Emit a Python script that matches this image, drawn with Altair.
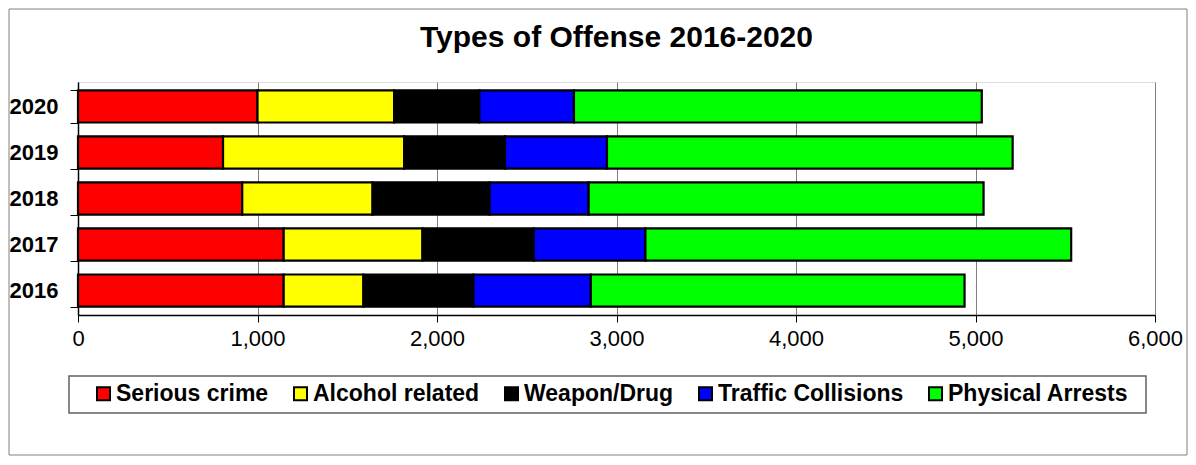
import altair as alt
import pandas as pd

years = ["2020", "2019", "2018", "2017", "2016"]
categories = ["Serious crime", "Alcohol related", "Weapon/Drug", "Traffic Collisions", "Physical Arrests"]
serious = [1000, 808, 915, 1146, 1146]
alcohol = [761, 1009, 726, 773, 444]
weapon = [475, 562, 652, 620, 613]
traffic = [527, 568, 552, 622, 654]
arrests = [2272, 2260, 2200, 2372, 2082]
colors = ["#ff0000", "#ffff00", "#000000", "#0000ff", "#00ff00"]
x_ticks = [0, 1000, 2000, 3000, 4000, 5000, 6000]

series = [serious, alcohol, weapon, traffic, arrests]
rows = []
for i, yr in enumerate(years):
    for j, cat in enumerate(categories):
        rows.append({"year": yr, "type": cat, "idx": j, "count": series[j][i]})
df = pd.DataFrame(rows)

FONT = "Liberation Sans"
W, H = 1077, 233

bars = alt.Chart(df).mark_bar(stroke="black", strokeWidth=2.2).encode(
    x=alt.X(
        "count:Q",
        stack="zero",
        scale=alt.Scale(domain=[0, 6000], nice=False),
        axis=alt.Axis(
            values=x_ticks, format=",d", title=None, grid=True,
            gridColor="#808080", gridWidth=1,
            labelFont=FONT, labelFontSize=22, labelColor="black",
            labelFlush=False,
            tickSize=7, tickColor="black", domainColor="black", domainWidth=1.5,
            labelPadding=6,
        ),
    ),
    y=alt.Y(
        "year:N",
        sort=years,
        scale=alt.Scale(paddingInner=0.30, paddingOuter=0.18),
        axis=alt.Axis(
            title=None, tickBand="extent", labelFont=FONT, labelFontSize=22,
            labelFontWeight="bold", labelColor="black", tickSize=8,
            tickColor="black", domainColor="black", domainWidth=1.5,
            labelPadding=12,
        ),
    ),
    color=alt.Color(
        "type:N",
        sort=categories,
        scale=alt.Scale(domain=categories, range=colors),
        legend=alt.Legend(
            title=None, orient="none", legendX=14, legendY=300,
            direction="horizontal", columns=5, padding=0,
            symbolType="square", symbolSize=169,
            symbolStrokeColor="black", symbolStrokeWidth=2,
            labelFont=FONT, labelFontSize=23, labelFontWeight="bold",
            labelColor="black", columnPadding=20, labelOffset=1,
            labelLimit=0,
        ),
    ),
    order=alt.Order("idx:Q"),
)

frame = alt.Chart(alt.Data(values=[{}])).mark_rect(
    fill="transparent", stroke="#808080", strokeWidth=1
).encode(
    x=alt.value(-69), x2=alt.value(1109), y=alt.value(-73), y2=alt.value(373)
)

legend_box = alt.Chart(alt.Data(values=[{}])).mark_rect(
    fill="transparent", stroke="#606060", strokeWidth=1.5
).encode(
    x=alt.value(-9), x2=alt.value(1068), y=alt.value(294), y2=alt.value(331)
)

chart = alt.layer(frame, legend_box, bars).properties(
    width=W,
    height=H,
    title=alt.TitleParams(
        "Types of Offense 2016-2020", font=FONT, fontSize=30, fontWeight="bold",
        color="black", anchor="middle", frame="group", offset=0, dy=44,
    ),
    autosize=alt.AutoSizeParams(type="none"),
    padding={"left": 70, "top": 74, "right": 33, "bottom": 142},
).configure_view(
    stroke="#606060", strokeWidth=1.5
).configure(background="white")

chart.save("out.html", embed_options={"renderer": "svg", "actions": False})
